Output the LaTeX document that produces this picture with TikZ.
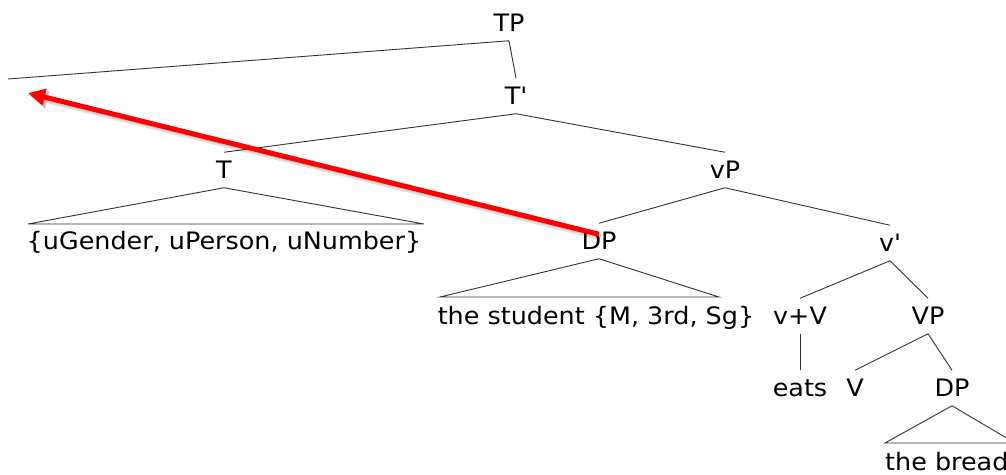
\documentclass[tikz,border=0pt]{standalone}
\usepackage{fontspec}
\setmainfont{DejaVu Sans}[FakeStretch=1.06]
\usetikzlibrary{arrows.meta}
\begin{document}
\begin{tikzpicture}[x=1pt,y=-1pt,
  lbl/.style={inner sep=0pt, outer xsep=0pt, outer ysep=9pt, text height=17.5pt, text depth=0pt, font=\fontsize{24}{28}\selectfont},
  txt/.style={inner sep=0pt, text height=17.5pt, text depth=0pt, font=\fontsize{24}{28}\selectfont},
  branch/.style={draw=black!80, line width=0.9pt},
  mv/.style={draw=red, line width=5pt, -{Triangle[length=17pt,width=16pt]}},
  mvshadow/.style={draw=black, line width=6pt, -{Triangle[length=18pt,width=17pt]}}]
\clip (0,0) rectangle (1006,474);
\fill[white] (0,0) rectangle (1006,474);
% nodes
\node[lbl] (TP) at (509,23) {TP};
\node[lbl] (Tb) at (516,96) {T\textquotesingle};
\node[lbl] (T) at (224,170) {T};
\node[lbl] (vP) at (725,170) {vP};
\node[txt] (Tfeat) at (224,241) {\{uGender, uPerson, uNumber\}};
\node[lbl] (DP) at (599,241) {DP};
\node[lbl] (vb) at (890,243) {v\textquotesingle};
\node[txt] (stud) at (596,316) {the student \{M, 3rd, Sg\}};
\node[lbl] (vV) at (800,316) {v+V};
\node[lbl] (VP) at (928,316) {VP};
\node[lbl] (eats) at (800,388) {eats};
\node[lbl] (V) at (855,388) {V};
\node[lbl] (DPb) at (952,388) {DP};
\node[txt, anchor=west] (bread) at (885,462) {the bread};
% free coordinates
\coordinate (spec) at (8,79);
\coordinate (tgt) at (28,93);
\coordinate (tA) at (28,224);
\coordinate (tB) at (424,224);
\coordinate (dA) at (440,297);
\coordinate (dB) at (719,297);
\coordinate (bA) at (885,443);
\coordinate (bB) at (1015,443);
% branches
\draw[branch] (spec) -- (TP.south) -- (Tb.north);
\draw[branch] (T.north) -- (Tb.south) -- (vP.north);
\draw[branch] (T.south) -- (tA) -- (tB) -- cycle;
\draw[branch] (DP.north) -- (vP.south) -- (vb.north);
\draw[branch] (DP.south) -- (dA) -- (dB) -- cycle;
\draw[branch] (vV.north) -- (vb.south) -- (VP.north);
\draw[branch] (vV.south) -- (eats.north);
\draw[branch] (V.north) -- (VP.south) -- (DPb.north);
\draw[branch] (DPb.south) -- (bA) -- (bB) -- cycle;
% movement arrow with soft shadow
\draw[mvshadow, opacity=0.12, transform canvas={shift={(2pt,-3pt)}}] ([yshift=-11pt]DP.north) -- (tgt);
\draw[mvshadow, opacity=0.12, line width=4pt, transform canvas={shift={(1.5pt,-2pt)}}] ([yshift=-11pt]DP.north) -- (tgt);
\draw[mv] ([yshift=-11pt]DP.north) -- (tgt);
\end{tikzpicture}
\end{document}
